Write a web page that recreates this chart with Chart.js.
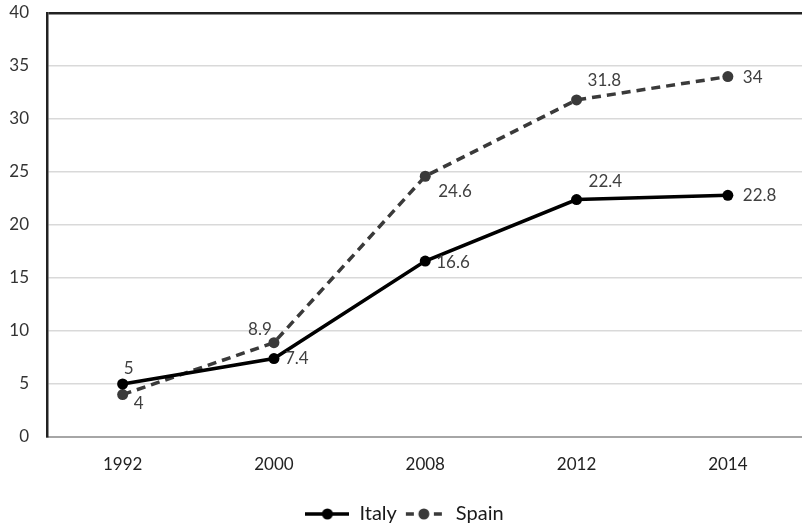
<!DOCTYPE html>
<html><head><meta charset="utf-8">
<script src="https://cdn.jsdelivr.net/npm/chart.js@4"></script>
<style>html,body{margin:0;padding:0;background:#fff;overflow:hidden}#wrap{width:809px;height:526px}</style>
</head><body><div id="wrap"><canvas id="c" width="809" height="526"></canvas></div>
<script>
const years = ['1992','2000','2008','2012','2014'];
const italy = [5, 7.4, 16.6, 22.4, 22.8];
const spain = [4, 8.9, 24.6, 31.8, 34];
const yTicks = [0,5,10,15,20,25,30,35,40];

const FONT = 'Lato, "Open Sans", sans-serif';
// label offsets (dx, dy, align) per point
const italyPos = [[6,-15,'center'],[11,0,'left'],[11,1,'left'],[12,-18,'left'],[15,0,'left']];
const spainPos = [[16,9,'center'],[-14,-13,'center'],[13,15,'left'],[11,-19,'left'],[15,1,'left']];

function legendIcon(dashed, color){
  const c = document.createElement('canvas');
  c.width = 44; c.height = 14;
  const x = c.getContext('2d');
  x.strokeStyle = color; x.fillStyle = color; x.lineWidth = 3.5;
  if (dashed) {
    x.beginPath(); x.moveTo(4,7); x.lineTo(12,7); x.moveTo(32,7); x.lineTo(40,7); x.stroke();
  } else {
    x.beginPath(); x.moveTo(0,7); x.lineTo(44,7); x.stroke();
  }
  x.beginPath(); x.arc(22,7,5.5,0,Math.PI*2); x.fill();
  return c;
}

const labelPlugin = {
  id:'pointLabels',
  afterDatasetsDraw(chart){
    const ctx = chart.ctx;
    ctx.save();
    ctx.font = '17px ' + FONT;
    ctx.fillStyle = '#404040';
    ctx.textBaseline = 'middle';
    const sets = [[0, italy, italyPos],[1, spain, spainPos]];
    sets.forEach(([di, vals, pos])=>{
      const meta = chart.getDatasetMeta(di);
      meta.data.forEach((pt,i)=>{
        const p = pos[i];
        ctx.textAlign = p[2];
        ctx.fillText(String(vals[i]), pt.x + p[0], pt.y + p[1]);
      });
    });
    ctx.restore();
  }
};

new Chart(document.getElementById('c'), {
  type:'line',
  data:{
    labels: years,
    datasets:[
      {label:'Italy', data: italy, borderColor:'#000', backgroundColor:'#000', borderWidth:3.5,
       pointRadius:5.5, pointHoverRadius:5.5, pointBackgroundColor:'#000', pointBorderWidth:0,
       tension:0, pointStyle:'circle'},
      {label:'Spain', data: spain, borderColor:'#3a3a3a', backgroundColor:'#3a3a3a', borderWidth:3.5,
       borderDash:[9,6], pointRadius:5.5, pointHoverRadius:5.5, pointBackgroundColor:'#3a3a3a', pointBorderWidth:0,
       tension:0, pointStyle:'circle'}
    ]
  },
  options:{
    responsive:false, animation:false,
    layout:{padding:{top:13,right:0,left:0,bottom:-8}},
    plugins:{
      legend:{position:'bottom', labels:{usePointStyle:true, pointStyleWidth:44, font:{family:FONT,size:20}, color:'#1a1a1a', padding:5,
        generateLabels(chart){
          return chart.data.datasets.map((ds,i)=>({text:ds.label, pointStyle: legendIcon(i===1, i===1?'#3a3a3a':'#000'),
            fillStyle:'#000', strokeStyle:'#000', lineWidth:0, datasetIndex:i, fontColor:'#1a1a1a'}));
        }}},
      tooltip:{enabled:false}
    },
    scales:{
      x:{
        offset:true,
        grid:{display:false, drawTicks:false},
        border:{display:true, color:'#a6a6a6', width:2},
        ticks:{font:{family:FONT,size:17}, color:'#222', padding:17},
        afterFit(s){ s.height = 62; s.paddingLeft = 0; s.paddingRight = 0; }
      },
      y:{
        min:0, max:40,
        afterBuildTicks(s){ s.ticks = yTicks.map(v=>({value:v})); },
        grid:{drawTicks:false, color:(c)=> (c.tick && c.tick.value===40) ? '#222' : '#d9d9d9',
              lineWidth:(c)=> (c.tick && c.tick.value===40) ? 2.5 : 1.5},
        border:{display:true, color:'#222', width:2.5},
        ticks:{font:{family:FONT,size:17}, color:'#333', padding:18},
        afterFit(s){ s.width = 47; s.paddingTop = 0; s.paddingBottom = 0; }
      }
    }
  },
  plugins:[labelPlugin]
});
</script></body></html>
